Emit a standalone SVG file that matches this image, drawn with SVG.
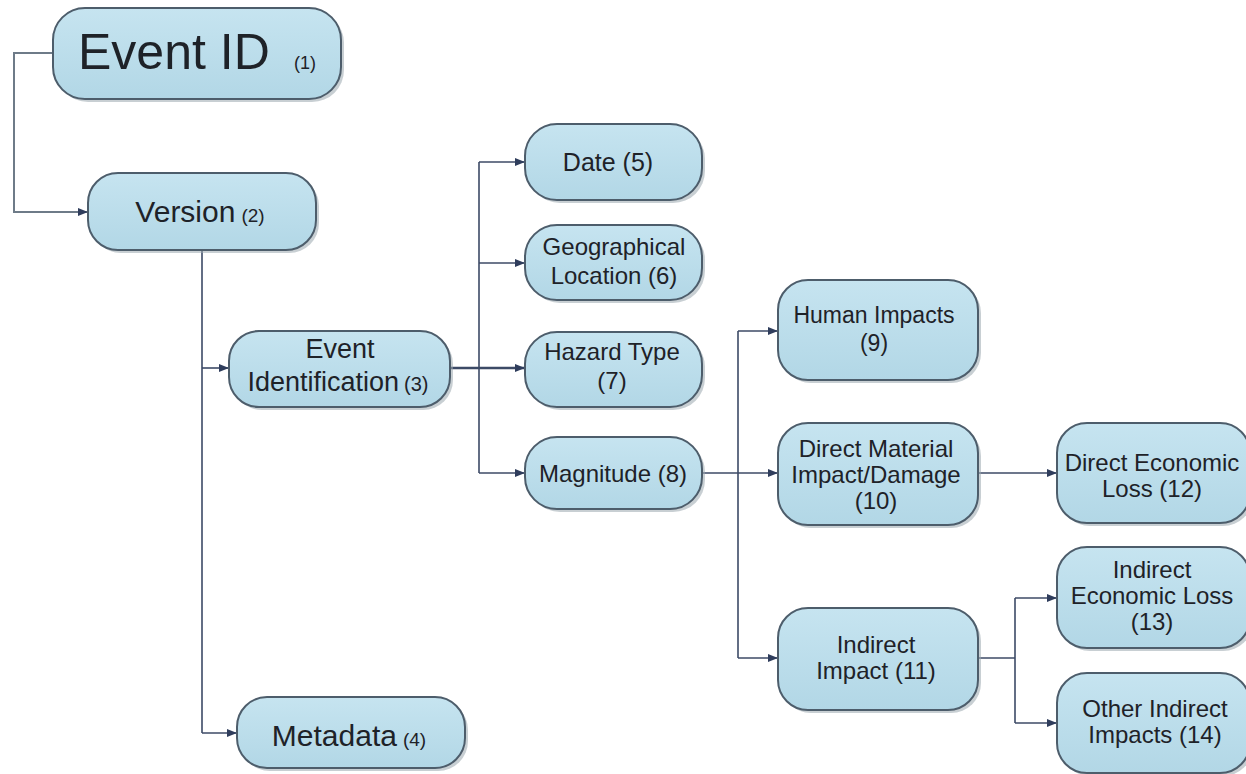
<svg xmlns="http://www.w3.org/2000/svg" width="1246" height="774" viewBox="0 0 1246 774">
<defs>
  <linearGradient id="fillg" x1="0" y1="0" x2="0" y2="1">
    <stop offset="0" stop-color="#c6e4f0"/>
    <stop offset="1" stop-color="#b2d7e6"/>
  </linearGradient>
  <marker id="arr" viewBox="0 0 10 10" refX="10" refY="5" markerWidth="10" markerHeight="10" markerUnits="userSpaceOnUse" orient="auto">
    <path d="M0,1 L10,5 L0,9 Z" fill="#2f3d5c"/>
  </marker>
</defs>
<style>
  .box { fill: url(#fillg); stroke: #4d5d6b; stroke-width: 2; }
  .shadow { fill: #9aa7ae; opacity: 0.55; }
  .t { font-family: "Liberation Sans", Arial, sans-serif; fill: #1e2228; text-anchor: middle; font-size: 24px; }
  .small { font-size: 19px; }
  .conn { fill: none; stroke: #3c4a66; stroke-width: 1.6; }
  .conn.gray { stroke: #6e7b88; stroke-width: 2; }
</style>
<rect width="1246" height="774" fill="#ffffff"/>

<g id="connectors">
  <path class="conn gray" d="M53,53 H14 V212 H88" marker-end="url(#arr)"/>
  <path class="conn" d="M202,250 V733"/>
  <path class="conn" d="M202,368 H229" marker-end="url(#arr)"/>
  <path class="conn" d="M202,733 H237" marker-end="url(#arr)"/>
  <path class="conn" d="M450,368 H525" marker-end="url(#arr)" style="stroke-width:2.4"/>
  <path class="conn" d="M479,162 V473"/>
  <path class="conn" d="M479,162 H525" marker-end="url(#arr)"/>
  <path class="conn" d="M479,263 H525" marker-end="url(#arr)"/>
  <path class="conn" d="M479,473 H525" marker-end="url(#arr)"/>
  <path class="conn" d="M702,473 H778" marker-end="url(#arr)"/>
  <path class="conn" d="M738,331 V658"/>
  <path class="conn" d="M738,331 H778" marker-end="url(#arr)"/>
  <path class="conn" d="M738,658 H778" marker-end="url(#arr)"/>
  <path class="conn" d="M978,473 H1057" marker-end="url(#arr)"/>
  <path class="conn" d="M978,658 H1015"/>
  <path class="conn" d="M1015,598 V723"/>
  <path class="conn" d="M1015,598 H1057" marker-end="url(#arr)"/>
  <path class="conn" d="M1015,723 H1057" marker-end="url(#arr)"/>
</g>

<g id="n1">
  <rect class="shadow" x="56" y="11" width="288" height="91" rx="32"/>
  <rect class="box" x="53" y="8" width="288" height="91" rx="32"/>
  <text class="t" x="78" y="69" style="text-anchor:start;font-size:50px">Event ID</text>
  <text class="t" x="305" y="69" style="font-size:18px">(1)</text>
</g>

<g id="n2">
  <rect class="shadow" x="91" y="176" width="228" height="77" rx="30"/>
  <rect class="box" x="88" y="173" width="228" height="77" rx="30"/>
  <text class="t" x="200" y="222"><tspan style="font-size:30px">Version</tspan><tspan class="small" dx="6">(2)</tspan></text>
</g>

<g id="n3">
  <rect class="shadow" x="232" y="334" width="221" height="76" rx="30"/>
  <rect class="box" x="229" y="331" width="221" height="76" rx="30"/>
  <text class="t" x="340" y="358" style="font-size:27px">Event</text>
  <text class="t" x="338" y="391"><tspan style="font-size:27px">Identification</tspan><tspan style="font-size:20px" dx="5">(3)</tspan></text>
</g>

<g id="n4">
  <rect class="shadow" x="240" y="700" width="228" height="71" rx="30"/>
  <rect class="box" x="237" y="697" width="228" height="71" rx="30"/>
  <text class="t" x="349" y="746"><tspan style="font-size:30px">Metadata</tspan><tspan class="small" dx="6">(4)</tspan></text>
</g>

<g id="n5">
  <rect class="shadow" x="528" y="127" width="177" height="76" rx="32"/>
  <rect class="box" x="525" y="124" width="177" height="76" rx="32"/>
  <text class="t" x="608" y="171" style="font-size:25px">Date (5)</text>
</g>

<g id="n6">
  <rect class="shadow" x="528" y="228" width="177" height="75" rx="32"/>
  <rect class="box" x="525" y="225" width="177" height="75" rx="32"/>
  <text class="t" x="614" y="255">Geographical</text>
  <text class="t" x="614" y="284">Location (6)</text>
</g>

<g id="n7">
  <rect class="shadow" x="528" y="335" width="177" height="75" rx="32"/>
  <rect class="box" x="525" y="332" width="177" height="75" rx="32"/>
  <text class="t" x="612" y="360">Hazard Type</text>
  <text class="t" x="612" y="389">(7)</text>
</g>

<g id="n8">
  <rect class="shadow" x="528" y="440" width="177" height="72" rx="32"/>
  <rect class="box" x="525" y="437" width="177" height="72" rx="32"/>
  <text class="t" x="613" y="482">Magnitude (8)</text>
</g>

<g id="n9">
  <rect class="shadow" x="781" y="283" width="200" height="100" rx="30"/>
  <rect class="box" x="778" y="280" width="200" height="100" rx="30"/>
  <text class="t" x="874" y="323" style="font-size:23px">Human Impacts</text>
  <text class="t" x="874" y="351" style="font-size:23px">(9)</text>
</g>

<g id="n10">
  <rect class="shadow" x="781" y="426" width="200" height="102" rx="30"/>
  <rect class="box" x="778" y="423" width="200" height="102" rx="30"/>
  <text class="t" x="876" y="457">Direct Material</text>
  <text class="t" x="876" y="483">Impact/Damage</text>
  <text class="t" x="876" y="509">(10)</text>
</g>

<g id="n11">
  <rect class="shadow" x="781" y="611" width="200" height="102" rx="30"/>
  <rect class="box" x="778" y="608" width="200" height="102" rx="30"/>
  <text class="t" x="876" y="653">Indirect</text>
  <text class="t" x="876" y="679">Impact (11)</text>
</g>

<g id="n12">
  <rect class="shadow" x="1060" y="426" width="193" height="100" rx="30"/>
  <rect class="box" x="1057" y="423" width="193" height="100" rx="30"/>
  <text class="t" x="1152" y="471">Direct Economic</text>
  <text class="t" x="1152" y="497">Loss (12)</text>
</g>

<g id="n13">
  <rect class="shadow" x="1060" y="550" width="193" height="101" rx="30"/>
  <rect class="box" x="1057" y="547" width="193" height="101" rx="30"/>
  <text class="t" x="1152" y="578">Indirect</text>
  <text class="t" x="1152" y="604">Economic Loss</text>
  <text class="t" x="1152" y="630">(13)</text>
</g>

<g id="n14">
  <rect class="shadow" x="1060" y="676" width="193" height="100" rx="30"/>
  <rect class="box" x="1057" y="673" width="193" height="100" rx="30"/>
  <text class="t" x="1155" y="717">Other Indirect</text>
  <text class="t" x="1155" y="743">Impacts (14)</text>
</g>
</svg>
